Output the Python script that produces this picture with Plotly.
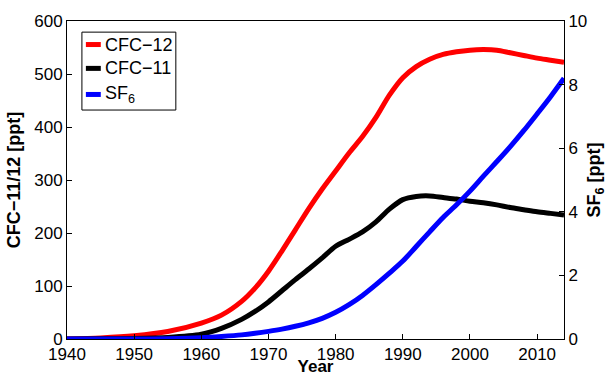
import plotly.graph_objects as go

# Atmospheric mixing ratios (ppt) by year
years = [1940, 1945, 1950, 1955, 1960, 1963, 1966, 1968, 1970, 1972, 1974,
         1976, 1978, 1980, 1982, 1984, 1986, 1988, 1990, 1992, 1994, 1996,
         1998, 2000, 2002, 2004, 2006, 2008, 2010, 2012, 2014]

cfc12 = [0, 2, 6, 14, 30, 45, 71, 96, 128, 166, 206,
         246, 283, 317, 351, 382, 418, 460, 493, 514, 528, 537,
         542, 545, 546, 545, 540, 535, 530, 526, 522]

cfc11 = [0, 0.5, 1, 3, 9, 20, 37, 52, 70, 91, 112,
         132, 153, 175, 188, 202, 221, 245, 263, 269, 270, 267,
         264, 260, 257, 253, 248, 244, 240, 237, 234]

sf6 = [0, 0, 0, 0.01, 0.04, 0.08, 0.13, 0.18, 0.24, 0.31, 0.40,
       0.51, 0.65, 0.84, 1.08, 1.37, 1.71, 2.07, 2.45, 2.91, 3.37, 3.82,
       4.22, 4.65, 5.12, 5.58, 6.05, 6.55, 7.08, 7.62, 8.2]

x_ticks = [1940, 1950, 1960, 1970, 1980, 1990, 2000, 2010]
left_ticks = [0, 100, 200, 300, 400, 500, 600]
right_ticks = [0, 2, 4, 6, 8, 10]

series_names = ["CFC\u221212", "CFC\u221211", "SF<sub>6</sub>"]
series_colors = ["#ff0000", "#000000", "#0000ff"]

FONT = "Liberation Sans, Arial, Helvetica, sans-serif"
LW = 5

fig = go.Figure()
fig.add_trace(go.Scatter(x=years, y=cfc12, mode="lines", name=series_names[0],
                         line=dict(color=series_colors[0], width=LW, shape="spline", smoothing=0.8),
                         showlegend=False))
fig.add_trace(go.Scatter(x=years, y=cfc11, mode="lines", name=series_names[1],
                         line=dict(color=series_colors[1], width=LW, shape="spline", smoothing=0.8),
                         showlegend=False))
fig.add_trace(go.Scatter(x=years, y=sf6, mode="lines", name=series_names[2], yaxis="y2",
                         line=dict(color=series_colors[2], width=LW, shape="spline", smoothing=0.8),
                         showlegend=False))

axis_common = dict(showgrid=False, zeroline=False, showline=True, linecolor="black",
                   linewidth=1, ticks="inside", ticklen=5, tickcolor="black",
                   tickfont=dict(family=FONT, size=17, color="black"))

fig.update_layout(
    width=607, height=376,
    margin=dict(l=67, r=43, t=21, b=37, autoexpand=False),
    paper_bgcolor="white", plot_bgcolor="white",
    font=dict(family=FONT, size=17, color="black"),
    xaxis=dict(range=[1940, 2014], tickvals=x_ticks, mirror=True,
               title=dict(text="<b>Year</b>", standoff=2,
                          font=dict(family=FONT, size=17)),
               automargin=False, **axis_common),
    yaxis=dict(range=[0, 600], tickvals=left_ticks,
               title=dict(text="<b>CFC\u221211/12 [ppt]</b>", standoff=8,
                          font=dict(family=FONT, size=18)),
               automargin=False, **axis_common),
    yaxis2=dict(range=[0, 10], tickvals=right_ticks, overlaying="y", side="right",
                title=dict(text="<b>SF<sub>6</sub> [ppt]</b>", standoff=8,
                           font=dict(family=FONT, size=18)),
                automargin=False, **axis_common),
)

# Legend box drawn in paper coordinates
legend_box = dict(x0=0.030, x1=0.219, y0=0.720, y1=0.965)
row_y = [0.926, 0.851, 0.769]
sample_x = (0.038, 0.068)
text_x = 0.072

fig.add_shape(type="rect", xref="paper", yref="paper",
              x0=legend_box["x0"], x1=legend_box["x1"],
              y0=legend_box["y0"], y1=legend_box["y1"],
              line=dict(color="black", width=1), fillcolor="white", layer="above")
for name, color, yy in zip(series_names, series_colors, row_y):
    fig.add_shape(type="line", xref="paper", yref="paper",
                  x0=sample_x[0], x1=sample_x[1], y0=yy, y1=yy,
                  line=dict(color=color, width=LW), layer="above")
    fig.add_annotation(xref="paper", yref="paper", x=text_x, y=yy,
                       text=name, showarrow=False, xanchor="left", yanchor="middle",
                       font=dict(family=FONT, size=18, color="black"))

fig.write_html("out.html")
